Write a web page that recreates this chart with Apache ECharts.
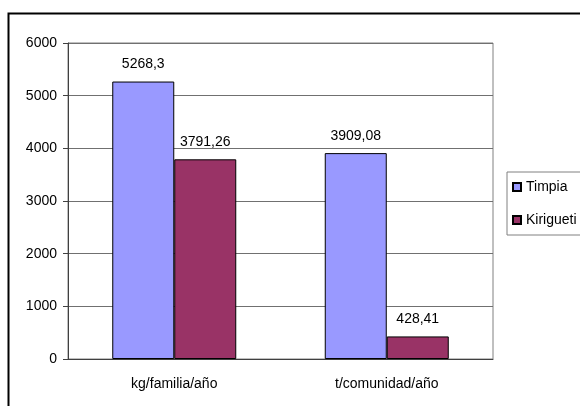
<!DOCTYPE html>
<html>
<head>
<meta charset="utf-8">
<script src="https://cdn.jsdelivr.net/npm/echarts@6/dist/echarts.min.js"></script>
<style>
  html, body { margin: 0; padding: 0; background: #fff; }
  #chart { width: 580px; height: 406px; }
</style>
</head>
<body>
<div id="chart"></div>
<script>
// Production per unit, Timpia vs Kirigueti
const categories = ['kg/familia/año', 't/comunidad/año'];
const timpia = [5268.3, 3909.08];
const kirigueti = [3791.26, 428.41];
const yTicks = [0, 1000, 2000, 3000, 4000, 5000, 6000];

const font = 'Liberation Sans, Arial, sans-serif';
const fmtComma = p => String(p.value).replace('.', ',');

const chart = echarts.init(document.getElementById('chart'), null, { renderer: 'canvas' });

chart.setOption({
  backgroundColor: '#fff',
  animation: false,
  textStyle: { fontFamily: font },
  graphic: [
    {
      // outer chart frame (left and top edges visible)
      type: 'polyline',
      shape: { points: [[8.5, 406], [8.5, 13.5], [580, 13.5]] },
      style: { stroke: '#000', lineWidth: 2, fill: null }
    }
  ],
  grid: {
    left: 68, right: 87, top: 43, bottom: 47,
    show: true, borderColor: '#808080', borderWidth: 1,
    backgroundColor: 'transparent'
  },
  legend: {
    orient: 'vertical',
    left: 507, top: 172,
    padding: [8, 40, 8, 5],
    itemGap: 19,
    itemWidth: 8, itemHeight: 8,
    icon: 'rect',
    borderColor: '#808080', borderWidth: 1,
    textStyle: { fontFamily: font, fontSize: 14, color: '#000', padding: [0, 0, 0, 0] },
    data: ['Timpia', 'Kirigueti']
  },
  xAxis: {
    type: 'category',
    data: categories,
    axisLine: { lineStyle: { color: '#404040', width: 1 } },
    axisTick: { show: false },
    axisLabel: { fontFamily: font, fontSize: 14, color: '#000', margin: 18 }
  },
  yAxis: {
    type: 'value',
    min: yTicks[0], max: yTicks[yTicks.length - 1], interval: 1000,
    axisLine: { show: true, lineStyle: { color: '#404040', width: 1 } },
    axisTick: { show: true, length: 5, lineStyle: { color: '#404040' } },
    splitLine: { lineStyle: { color: '#707070', width: 1 } },
    axisLabel: { fontFamily: font, fontSize: 14, color: '#000', margin: 11,
                 formatter: v => String(v) }
  },
  series: [
    {
      name: 'Timpia',
      type: 'bar',
      data: timpia,
      barWidth: 62,
      barGap: '0%',
      itemStyle: { color: '#9999FF', borderColor: '#000', borderWidth: 1 },
      label: { show: true, position: 'top', distance: 10, formatter: fmtComma,
               fontFamily: font, fontSize: 14, color: '#000' }
    },
    {
      name: 'Kirigueti',
      type: 'bar',
      data: kirigueti,
      barWidth: 62,
      barGap: '0%',
      itemStyle: { color: '#993366', borderColor: '#000', borderWidth: 1 },
      label: { show: true, position: 'top', distance: 10, formatter: fmtComma,
               fontFamily: font, fontSize: 14, color: '#000' }
    }
  ]
});
</script>
</body>
</html>
